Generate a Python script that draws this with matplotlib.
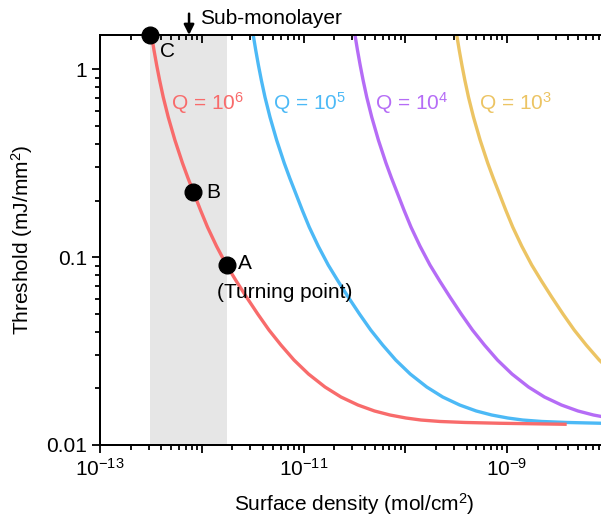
import matplotlib
matplotlib.use("Agg")
import matplotlib.pyplot as plt
from matplotlib.ticker import LogLocator, NullFormatter, FixedLocator, FixedFormatter

plt.rcParams['font.family'] = ['Liberation Sans', 'DejaVu Sans']
plt.rcParams['mathtext.fontset'] = 'custom'
plt.rcParams['mathtext.rm'] = 'Liberation Sans'
plt.rcParams['mathtext.it'] = 'Liberation Sans:italic'
plt.rcParams['mathtext.bf'] = 'Liberation Sans:bold'

# threshold (mJ/mm^2), shared by all four curves
threshold = [1.517, 1.262, 1.050, 0.874, 0.7096, 0.5555, 0.4193, 0.3162, 0.2632, 0.2217,
             0.1778, 0.1444, 0.1144, 0.0907, 0.0745, 0.06125, 0.04973, 0.04089, 0.03402, 0.02832,
             0.02386, 0.02035, 0.0180, 0.01632, 0.01517, 0.01444, 0.01392, 0.01358, 0.01334, 0.01318,
             0.01305, 0.01289]

# surface density (mol/cm^2) for each Q
x_q6 = [3.207e-13, 3.393e-13, 3.606e-13, 3.852e-13, 4.184e-13, 4.686e-13, 5.446e-13, 6.469e-13, 7.327e-13, 8.295e-13,
        9.721e-13, 1.139e-12, 1.396e-12, 1.751e-12, 2.186e-12, 2.753e-12, 3.555e-12, 4.581e-12, 6.009e-12, 8.065e-12,
        1.120e-11, 1.627e-11, 2.337e-11, 3.432e-11, 4.987e-11, 7.081e-11, 1.017e-10, 1.428e-10, 2.195e-10, 3.866e-10,
        8.536e-10, 3.862e-9]
x_q5 = [3.207e-12, 3.393e-12, 3.606e-12, 3.852e-12, 4.184e-12, 4.686e-12, 5.446e-12, 6.469e-12, 7.327e-12, 8.295e-12,
        9.721e-12, 1.139e-11, 1.396e-11, 1.751e-11, 2.186e-11, 2.753e-11, 3.555e-11, 4.581e-11, 6.009e-11, 8.065e-11,
        1.120e-10, 1.627e-10, 2.337e-10, 3.432e-10, 4.987e-10, 7.081e-10, 1.017e-9, 1.428e-9, 2.195e-9, 3.866e-9,
        8.536e-9, 3.862e-8]
x_q4 = [3.207e-11, 3.393e-11, 3.606e-11, 3.852e-11, 4.184e-11, 4.686e-11, 5.446e-11, 6.469e-11, 7.327e-11, 8.295e-11,
        9.721e-11, 1.139e-10, 1.396e-10, 1.751e-10, 2.186e-10, 2.753e-10, 3.555e-10, 4.581e-10, 6.009e-10, 8.065e-10,
        1.120e-9, 1.627e-9, 2.337e-9, 3.432e-9, 4.987e-9, 7.081e-9, 1.017e-8, 1.428e-8, 2.195e-8, 3.866e-8,
        8.536e-8, 3.862e-7]
x_q3 = [3.207e-10, 3.393e-10, 3.606e-10, 3.852e-10, 4.184e-10, 4.686e-10, 5.446e-10, 6.469e-10, 7.327e-10, 8.295e-10,
        9.721e-10, 1.139e-9, 1.396e-9, 1.751e-9, 2.186e-9, 2.753e-9, 3.555e-9, 4.581e-9, 6.009e-9, 8.065e-9,
        1.120e-8, 1.627e-8, 2.337e-8, 3.432e-8, 4.987e-8, 7.081e-8, 1.017e-7, 1.428e-7, 2.195e-7, 3.866e-7,
        8.536e-7, 3.862e-6]

q_labels = [r'Q = 10$^6$', r'Q = 10$^5$', r'Q = 10$^4$', r'Q = 10$^3$']
q_label_x = [5.0e-13, 5.0e-12, 5.05e-11, 5.3e-10]
colors = ['#f86b6b', '#4cb9f6', '#b56cf6', '#ecc463']

# marked points on the Q = 1e6 curve
pt_names = ['A', 'B', 'C']
pt_x = [1.76e-12, 8.26e-13, 3.1e-13]
pt_y = [0.0906, 0.221, 1.52]

band = [3.1e-13, 1.77e-12]
xticks = [1e-13, 1e-12, 1e-11, 1e-10, 1e-9, 1e-8]
xticklabels = [r'10$^{-13}$', '', r'10$^{-11}$', '', r'10$^{-9}$', '']
yticks = [0.01, 0.1, 1]
yticklabels = ['0.01', '0.1', '1']

fig = plt.figure(figsize=(6.01, 5.25), dpi=100)
ax = fig.add_axes([100 / 601, 80 / 525, 508.75 / 601, 410 / 525])
ax.set_xscale('log')
ax.set_yscale('log')

ax.axvspan(band[0], band[1], color='#e6e6e6', lw=0, zorder=0)

ax.plot(x_q3, threshold, color=colors[3], lw=2.4, zorder=2)
ax.plot(x_q4, threshold, color=colors[2], lw=2.4, zorder=2)
ax.plot(x_q5, threshold, color=colors[1], lw=2.4, zorder=2)
ax.plot(x_q6, threshold, color=colors[0], lw=2.4, zorder=3, solid_capstyle='butt')

for lab, lx, c in zip(q_labels, q_label_x, colors):
    ax.text(lx, 0.66, lab, color=c, fontsize=15, va='center', ha='left')

ax.plot(pt_x, pt_y, 'o', color='black', ms=12, zorder=5, clip_on=False)
ax.annotate(pt_names[0], (pt_x[0], pt_y[0]), xytext=(8, 1), textcoords='offset points',
            fontsize=15, va='center', ha='left')
ax.annotate('(Turning point)', (pt_x[0], pt_y[0]), xytext=(-7, -20), textcoords='offset points',
            fontsize=15, va='center', ha='left')
ax.annotate(pt_names[1], (pt_x[1], pt_y[1]), xytext=(9, 0), textcoords='offset points',
            fontsize=15, va='center', ha='left')
ax.annotate(pt_names[2], (pt_x[2], pt_y[2]), xytext=(7, -12), textcoords='offset points',
            fontsize=15, va='center', ha='left')

ax.annotate('', xy=(7.5e-13, 1.0), xycoords=('data', 'axes fraction'),
            xytext=(7.5e-13, 1.052), textcoords=('data', 'axes fraction'),
            arrowprops=dict(arrowstyle='-|>', color='black', lw=1.8, mutation_scale=15,
                            shrinkA=0, shrinkB=0), annotation_clip=False)
ax.text(9.6e-13, 1.04, 'Sub-monolayer', transform=ax.get_xaxis_transform(),
        fontsize=15, va='center', ha='left')

ax.set_xlim(1e-13, 1e-8)
ax.set_ylim(0.01, 1.52)

ax.xaxis.set_major_locator(FixedLocator(xticks))
ax.xaxis.set_major_formatter(FixedFormatter(xticklabels))
ax.xaxis.set_minor_locator(LogLocator(base=10, subs=range(2, 10), numticks=20))
ax.xaxis.set_minor_formatter(NullFormatter())
ax.yaxis.set_major_locator(FixedLocator(yticks))
ax.yaxis.set_major_formatter(FixedFormatter(yticklabels))
ax.yaxis.set_minor_locator(LogLocator(base=10, subs=range(2, 10), numticks=20))
ax.yaxis.set_minor_formatter(NullFormatter())

ax.tick_params(which='both', direction='out', labelsize=15, width=1.3)
ax.tick_params(which='major', length=6)
ax.tick_params(which='minor', length=3.5)
for s in ax.spines.values():
    s.set_linewidth(1.4)

# inward ticks along the top edge
top = ax.twiny()
top.set_xscale('log')
top.set_xlim(ax.get_xlim())
top.xaxis.set_major_locator(FixedLocator(xticks))
top.xaxis.set_minor_locator(LogLocator(base=10, subs=range(2, 10), numticks=20))
top.xaxis.set_major_formatter(NullFormatter())
top.xaxis.set_minor_formatter(NullFormatter())
top.tick_params(which='both', direction='in', width=1.3)
top.tick_params(which='major', length=6)
top.tick_params(which='minor', length=3.5)
for s in top.spines.values():
    s.set_linewidth(1.4)

ax.set_xlabel('Surface density (mol/cm$^2$)', fontsize=15, labelpad=8)
ax.set_ylabel('Threshold (mJ/mm$^2$)', fontsize=15, labelpad=8)

fig.savefig('out.png', dpi=100)
